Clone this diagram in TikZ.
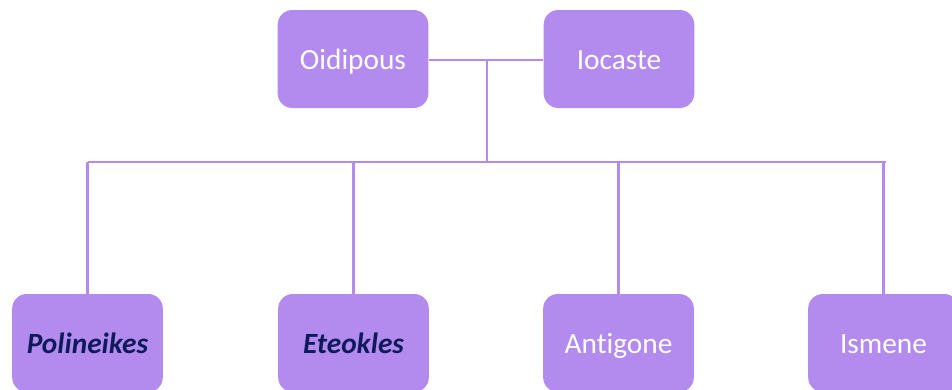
\documentclass[tikz,border=0pt]{standalone}
\usepackage{fontspec}
\setmainfont{Carlito}[Ligatures={NoCommon}]
\usepackage{tikz}

\definecolor{lila}{HTML}{B38BEF}
\definecolor{navy}{HTML}{0E1A5C}

\tikzset{
  person/.style={fill=lila, draw=none, rounded corners=11pt, minimum width=113pt,
    minimum height=73.5pt, inner sep=0pt, text height=17pt, text depth=2pt,
    text=white, font=\fontsize{22}{26}\selectfont},
  son/.style={person, text=navy, font=\fontsize{22}{26}\selectfont\bfseries\itshape},
  link/.style={draw=lila, line width=2.2pt}
}

\begin{document}
\begin{tikzpicture}[x=0.75pt,y=0.75pt,yscale=-1,xscale=1]
\clip (0,0) rectangle (952,389);
\useasboundingbox (0,0) rectangle (952,389);

% parents
\node[person] (oidipous) at (353,59) {Oidipous};
\node[person] (iocaste) at (619,59) {Iocaste};

% children
\node[son] (polineikes) at (87.5,343) {Polineikes};
\node[son] (eteokles) at (353.5,343) {Eteokles};
\node[person] (antigone) at (618.5,343) {Antigone};
\node[person] (ismene) at (883.5,343) {Ismene};

% lines
\coordinate (mid) at (487,60);
\coordinate (bus) at (487,162);
\draw[link] (oidipous.east |- mid) -- (iocaste.west |- mid);
\draw[link] (mid) -- (bus);
\draw[link] (polineikes.north |- bus) -- ([xshift=1.5pt]ismene.north |- bus);
\foreach \kid in {polineikes,eteokles,antigone,ismene}
  \draw[link] (\kid.north |- bus) -- (\kid.north);

\end{tikzpicture}
\end{document}
